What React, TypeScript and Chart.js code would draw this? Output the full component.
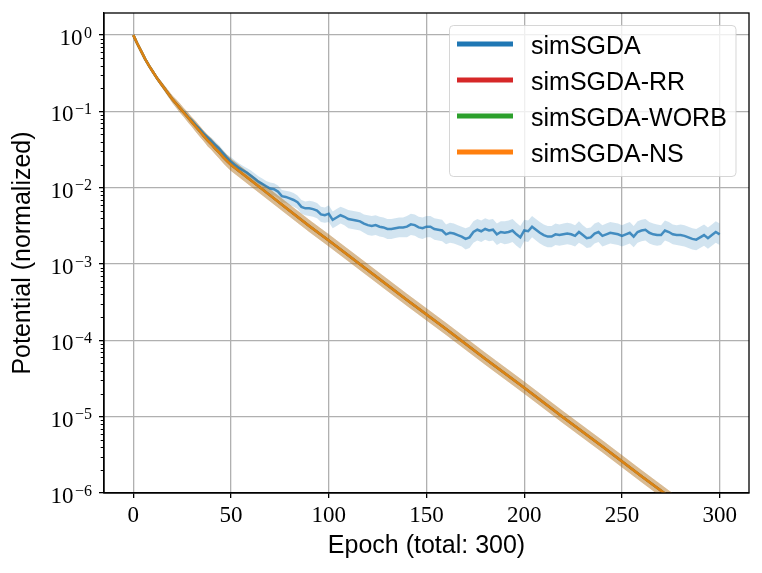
import { useEffect, useRef } from "react";
import { Chart, registerables } from "chart.js";

Chart.register(...registerables);

// ---------------- data ----------------
// simSGDA mean potential, log10 values, sampled every 2 epochs (0..300)
const simSGDALog10 = [
  0, -0.11, -0.21, -0.31, -0.40, -0.48, -0.56, -0.63, -0.70, -0.77,
  -0.84, -0.90, -0.96, -1.01, -1.07, -1.12, -1.18, -1.23, -1.29, -1.34,
  -1.39, -1.44, -1.49, -1.55, -1.61, -1.66, -1.70, -1.74, -1.77, -1.80,
  -1.84, -1.88, -1.92, -1.95, -1.98, -2.01, -2.02, -2.05, -2.11, -2.12,
  -2.14, -2.16, -2.19, -2.25, -2.27, -2.27, -2.28, -2.30, -2.35, -2.36,
  -2.34, -2.42, -2.39, -2.36, -2.38, -2.41, -2.42, -2.43, -2.44, -2.47,
  -2.49, -2.50, -2.49, -2.51, -2.52, -2.54, -2.54, -2.53, -2.52, -2.52,
  -2.51, -2.48, -2.49, -2.52, -2.53, -2.51, -2.51, -2.54, -2.55, -2.56,
  -2.61, -2.59, -2.60, -2.62, -2.64, -2.67, -2.65, -2.58, -2.55, -2.57,
  -2.54, -2.56, -2.55, -2.61, -2.58, -2.59, -2.58, -2.56, -2.61, -2.65,
  -2.56, -2.57, -2.51, -2.55, -2.59, -2.62, -2.64, -2.64, -2.61, -2.62,
  -2.61, -2.60, -2.61, -2.63, -2.58, -2.62, -2.66, -2.65, -2.60, -2.58,
  -2.63, -2.61, -2.59, -2.60, -2.61, -2.63, -2.61, -2.59, -2.64, -2.58,
  -2.56, -2.55, -2.59, -2.61, -2.62, -2.62, -2.56, -2.58, -2.61, -2.62,
  -2.62, -2.63, -2.65, -2.67, -2.68, -2.65, -2.62, -2.66, -2.62, -2.58,
  -2.61,
];
const simSGDAEpochStep = 2;
// half-width of the simSGDA shaded band (decades), one value per 10-epoch block
const simSGDASpread = [
  0.005, 0.01, 0.015, 0.03, 0.045, 0.06, 0.07, 0.08, 0.09, 0.10,
  0.11, 0.12, 0.13, 0.13, 0.14, 0.14, 0.13, 0.14, 0.14, 0.15,
  0.14, 0.14, 0.14, 0.13, 0.14, 0.14, 0.14, 0.13, 0.14, 0.14, 0.14,
];

// RR / WORB / NS coincide in the picture (lines and bands overlap exactly)
const shuffledEpochs = [
  0, 2, 4, 6, 8, 10, 12, 14, 16, 18, 20, 22, 24, 26, 28, 30, 32, 34, 36, 38,
  40, 42, 44, 46, 48, 50, 60, 70, 80, 90, 100, 120, 140, 160, 180, 200, 220,
  240, 260, 280, 300,
];
const shuffledLog10 = [
  0, -0.11, -0.21, -0.31, -0.40, -0.48, -0.56, -0.63, -0.70, -0.77, -0.84,
  -0.90, -0.96, -1.02, -1.08, -1.14, -1.20, -1.26, -1.32, -1.38, -1.43, -1.49,
  -1.54, -1.60, -1.65, -1.70, -1.90, -2.10, -2.30, -2.50, -2.69, -3.08, -3.47,
  -3.85, -4.24, -4.62, -5.01, -5.39, -5.78, -6.16, -6.55,
];
const shuffledSpread = [
  0, 0.005, 0.01, 0.015, 0.02, 0.025, 0.03, 0.035, 0.04, 0.045, 0.05, 0.055,
  0.06, 0.06, 0.065, 0.065, 0.07, 0.07, 0.07, 0.075, 0.075, 0.075, 0.08, 0.08,
  0.08, 0.08, 0.08, 0.08, 0.08, 0.08, 0.08, 0.08, 0.08, 0.08, 0.08, 0.08, 0.08,
  0.08, 0.08, 0.08, 0.08,
];

const seriesNames = ["simSGDA", "simSGDA-RR", "simSGDA-WORB", "simSGDA-NS"];
const seriesColors = ["#1f77b4", "#d62728", "#2ca02c", "#ff7f0e"];
const xTickValues = [0, 50, 100, 150, 200, 250, 300];
const yTickExponents = [-6, -5, -4, -3, -2, -1, 0];
const xTitle = "Epoch (total: 300)";
const yTitle = "Potential (normalized)";

// ---------------- helpers ----------------
const rgba = (hex: string, a: number) => {
  const n = parseInt(hex.slice(1), 16);
  return `rgba(${(n >> 16) & 255},${(n >> 8) & 255},${n & 255},${a})`;
};
const SANS = '"Liberation Sans", Arial, Helvetica, sans-serif';
const SERIF = '"Liberation Serif", "Times New Roman", serif';

const sgdaEpochs = simSGDALog10.map((_, i) => i * simSGDAEpochStep);
const sgdaMean = sgdaEpochs.map((x, i) => ({ x, y: 10 ** simSGDALog10[i] }));
const sgdaSpreadAt = (x: number) => simSGDASpread[Math.min(simSGDASpread.length - 1, Math.floor(x / 10))];
const sgdaUpper = sgdaEpochs.map((x, i) => ({ x, y: 10 ** (simSGDALog10[i] + sgdaSpreadAt(x)) }));
const sgdaLower = sgdaEpochs.map((x, i) => ({ x, y: 10 ** (simSGDALog10[i] - sgdaSpreadAt(x)) }));

const shMean = shuffledEpochs.map((x, i) => ({ x, y: 10 ** shuffledLog10[i] }));
const shUpper = shuffledEpochs.map((x, i) => ({ x, y: 10 ** (shuffledLog10[i] + shuffledSpread[i]) }));
const shLower = shuffledEpochs.map((x, i) => ({ x, y: 10 ** (shuffledLog10[i] - shuffledSpread[i]) }));

const lineDs = (label: string, color: string, data: any) => ({
  label,
  data,
  borderColor: rgba(color, 0.8),
  backgroundColor: rgba(color, 0.8),
  borderWidth: 2.5,
  pointRadius: 0,
  tension: 0,
  fill: false,
  clip: 0,
});
const bandDs = (color: string, data: any, fill: any) => ({
  label: "",
  data,
  borderColor: "transparent",
  backgroundColor: rgba(color, 0.2),
  borderWidth: 0,
  pointRadius: 0,
  tension: 0,
  fill,
  clip: 0,
});

const decorations = {
  id: "decorations",
  afterDatasetsDraw(chart: any) {
    const { ctx, chartArea: a, scales } = chart;
    const y = scales.y;
    ctx.save();
    // minor ticks on the log axis
    ctx.strokeStyle = "#000";
    ctx.lineWidth = 1;
    for (let e = -6; e <= 0; e++) {
      for (let k = 2; k <= 9; k++) {
        const v = k * 10 ** e;
        if (v < y.min || v > y.max) continue;
        const py = Math.round(y.getPixelForValue(v)) + 0.5;
        ctx.beginPath();
        ctx.moveTo(a.left - 3.3, py);
        ctx.lineTo(a.left, py);
        ctx.stroke();
      }
    }
    // frame (all four spines)
    ctx.lineWidth = 1.3;
    ctx.strokeRect(a.left, a.top, a.right - a.left, a.bottom - a.top);
    // y tick labels 10^e
    ctx.fillStyle = "#000";
    ctx.textBaseline = "alphabetic";
    for (const e of yTickExponents) {
      const py = y.getPixelForValue(10 ** e);
      const sup = e === 0 ? "0" : "\u2212" + Math.abs(e);
      const xr = a.left - 12;
      ctx.font = `16px ${SERIF}`;
      const ws = ctx.measureText(sup).width;
      ctx.textAlign = "left";
      ctx.fillText(sup, xr - ws, py + 2.7);
      ctx.font = `23px ${SERIF}`;
      ctx.textAlign = "right";
      ctx.fillText("10", xr - ws - 1.5, py + 10);
    }
    ctx.restore();
  },
  afterDraw(chart: any) {
    const { ctx, chartArea: a } = chart;
    ctx.save();
    const bx = a.right - 13 - 286.5;
    const by = a.top + 12.5;
    const bw = 286.5;
    const bh = 151;
    ctx.beginPath();
    ctx.roundRect(bx, by, bw, bh, 4);
    ctx.fillStyle = "rgba(255,255,255,0.8)";
    ctx.fill();
    ctx.strokeStyle = "rgba(204,204,204,0.8)";
    ctx.lineWidth = 1;
    ctx.stroke();
    ctx.font = `25px ${SANS}`;
    ctx.textAlign = "left";
    ctx.textBaseline = "alphabetic";
    seriesNames.forEach((name, i) => {
      const cy = by + 18.5 + i * 36;
      ctx.strokeStyle = seriesColors[i];
      ctx.lineWidth = 5;
      ctx.beginPath();
      ctx.moveTo(bx + 7.5, cy);
      ctx.lineTo(bx + 63.5, cy);
      ctx.stroke();
      ctx.fillStyle = "#000";
      ctx.fillText(name, bx + 81.5, cy + 10);
    });
    ctx.restore();
  },
};

export default function App() {
  const ref = useRef<HTMLCanvasElement | null>(null);
  useEffect(() => {
    if (!ref.current) return;
    const datasets: any[] = [
      lineDs(seriesNames[3], seriesColors[3], shMean),
      lineDs(seriesNames[2], seriesColors[2], shMean),
      lineDs(seriesNames[1], seriesColors[1], shMean),
      lineDs(seriesNames[0], seriesColors[0], sgdaMean),
      bandDs(seriesColors[3], shUpper, "+1"),
      bandDs(seriesColors[3], shLower, false),
      bandDs(seriesColors[2], shUpper, "+1"),
      bandDs(seriesColors[2], shLower, false),
      bandDs(seriesColors[1], shUpper, "+1"),
      bandDs(seriesColors[1], shLower, false),
      bandDs(seriesColors[0], sgdaUpper, "+1"),
      bandDs(seriesColors[0], sgdaLower, false),
    ];
    const chart = new Chart(ref.current, {
      type: "line",
      data: { datasets },
      options: {
        responsive: false,
        animation: false,
        layout: { padding: { top: 13, right: 13, left: 0, bottom: 0 } },
        plugins: {
          legend: { display: false },
          tooltip: { enabled: false },
          filler: { drawTime: "beforeDatasetsDraw" },
        } as any,
        scales: {
          x: {
            type: "linear",
            min: -15,
            max: 315,
            afterBuildTicks: (s: any) => {
              s.ticks = xTickValues.map((v) => ({ value: v }));
            },
            afterFit: (s: any) => {
              s.height = 80;
            },
            grid: { color: "#b0b0b0", lineWidth: 1.3, drawTicks: true, tickLength: 5, tickColor: "#000", tickWidth: 1.3 },
            border: { color: "#000", width: 1.3 },
            ticks: {
              color: "#000",
              font: { family: SERIF, size: 23 },
              padding: 4,
              maxRotation: 0,
              autoSkip: false,
              callback: (v: any) => String(v),
            },
            title: {
              display: true,
              text: xTitle,
              color: "#000",
              font: { family: SANS, size: 25 },
              padding: { top: 0, bottom: 12 },
            },
          },
          y: {
            type: "logarithmic",
            min: 1e-6,
            max: 1.95,
            afterBuildTicks: (s: any) => {
              s.ticks = yTickExponents.map((e) => ({ value: 10 ** e }));
            },
            afterFit: (s: any) => {
              s.width = 104;
            },
            grid: { color: "#b0b0b0", lineWidth: 1.3, drawTicks: true, tickLength: 5, tickColor: "#000", tickWidth: 1.3 },
            border: { color: "#000", width: 1.3 },
            ticks: { callback: () => "", autoSkip: false },
            title: {
              display: true,
              text: yTitle,
              color: "#000",
              font: { family: SANS, size: 25 },
              padding: { top: 8, bottom: 0 },
            },
          },
        } as any,
      },
      plugins: [decorations],
    });
    return () => chart.destroy();
  }, []);
  return (
    <div style={{ position: "fixed", left: 0, top: 0, width: 762, height: 573, background: "#fff" }}>
      <canvas ref={ref} width={762} height={573} style={{ display: "block" }} />
    </div>
  );
}
